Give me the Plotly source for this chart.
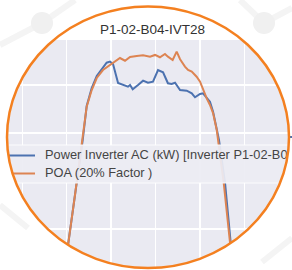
import numpy as np
import plotly.graph_objects as go

# ---------------- data ----------------
chart_title = "P1-02-B04-IVT28"
series_names = ["Power Inverter AC (kW) [Inverter P1-02-B04-IVT28]", "POA (20% Factor )"]

power_hours = [5.74, 6.09, 6.56, 7.08, 7.35, 7.69, 8.03, 8.45, 8.70, 8.93,
               9.13, 9.47, 9.80, 10.14, 10.28, 10.46, 10.82, 11.16, 11.49, 11.83,
               12.17, 12.51, 12.84, 13.09, 13.32, 13.66, 14.11, 14.45, 14.67, 15.01,
               15.21, 15.46, 15.68, 15.89, 16.14, 16.29, 16.70, 17.10, 17.30]
power_kw = [0, 333, 854, 1427, 1781, 1969, 2094, 2188, 2232, 2243,
            2219, 2021, 2000, 1982, 2000, 1955, 2000, 2045, 2024, 2034,
            2156, 2132, 2018, 2010, 2024, 1948, 1941, 1914, 1872, 1906,
            1914, 1861, 1826, 1722, 1531, 1427, 979, 365, 0]

poa_hours = [5.74, 6.09, 6.56, 7.08, 7.35, 7.69, 8.03, 8.45, 8.93, 9.26,
             9.60, 9.94, 10.28, 10.73, 11.16, 11.63, 11.97, 12.30, 12.64, 12.84,
             13.16, 13.43, 13.66, 13.99, 14.20, 14.45, 14.78, 15.01, 15.21, 15.46,
             15.68, 15.89, 16.14, 16.22, 16.61, 17.03, 17.24]
poa_kw = [0, 333, 854, 1427, 1774, 1948, 2073, 2156, 2208, 2243,
          2281, 2253, 2292, 2302, 2309, 2295, 2313, 2289, 2323, 2295,
          2260, 2347, 2268, 2191, 2156, 2139, 2086, 2034, 1948, 1861,
          1792, 1708, 1531, 1427, 979, 365, 0]

# ---------------- style ----------------
W, H = 292, 270
TOP = 40
BLUE = "rgb(76,114,176)"
ORANGE = "rgb(221,132,82)"
RING = "rgb(244,128,32)"
FONT = "Arial, Liberation Sans, sans-serif"
DECO = "#F4F4F4"
DECO_DOT = "#F0F0F0"

def px(x):
    return x / W

def py(y):
    return (H - y) / (H - TOP)

fig = go.Figure()

fig.add_trace(go.Scatter(x=power_hours, y=power_kw, mode="lines", name=series_names[0],
                         line=dict(color=BLUE, width=2), showlegend=False))
fig.add_trace(go.Scatter(x=poa_hours, y=poa_kw, mode="lines", name=series_names[1],
                         line=dict(color=ORANGE, width=2), showlegend=False))

# legend drawn in an overlay pixel space so the circular crop clips it
leg_top, leg_bot = 145, 183
fig.add_trace(go.Scatter(x=[-5, 297, 297, -5, -5], y=[leg_top, leg_top, leg_bot, leg_bot, leg_top],
                         mode="lines", fill="toself", fillcolor="rgba(236,236,243,0.93)",
                         line=dict(color="rgba(255,255,255,0.9)", width=1),
                         xaxis="x2", yaxis="y2", hoverinfo="skip", showlegend=False))
rows_y = [155.5, 173.5]
for yy, col in zip(rows_y, [BLUE, ORANGE]):
    fig.add_trace(go.Scatter(x=[8, 35], y=[yy, yy], mode="lines", line=dict(color=col, width=2),
                             xaxis="x2", yaxis="y2", hoverinfo="skip", showlegend=False))
fig.add_trace(go.Scatter(x=[45, 45], y=rows_y, mode="text", text=series_names,
                         textposition="middle right",
                         textfont=dict(family=FONT, size=12.8, color="rgb(68,68,68)"),
                         xaxis="x2", yaxis="y2", hoverinfo="skip", showlegend=False, cliponaxis=True))

# ellipse crop
cx, cy, rx, ry = 148, 137.2, 141, 130.8
t = np.linspace(0, 2 * np.pi, 181)
ex = cx + rx * np.cos(t)
ey = cy + ry * np.sin(t)
path = "M -20,-20 L 312,-20 L 312,290 L -20,290 Z M " + " L ".join(
    f"{a:.2f},{b:.2f}" for a, b in zip(ex, ey)) + " Z"

shapes = [
    dict(type="path", path=path, xref="x2", yref="y2", fillcolor="white",
         line=dict(width=0), layer="above", fillrule="evenodd"),
]
# faint background decoration outside the circle
deco_lines = [((0, 45), (42, 23)), ((42, 23), (75, 0)), ((240, 0), (264, 23)),
              ((264, 23), (292, 8)), ((0, 205), (28, 228)), ((262, 262), (292, 238))]
for (x0, y0), (x1, y1) in deco_lines:
    shapes.append(dict(type="line", xref="paper", yref="paper", x0=px(x0), y0=py(y0),
                       x1=px(x1), y1=py(y1), line=dict(color=DECO, width=6), layer="above"))
for (ccx, ccy) in [(42, 23), (264, 23)]:
    shapes.append(dict(type="circle", xref="paper", yref="paper", x0=px(ccx - 11), x1=px(ccx + 11),
                       y0=py(ccy + 11), y1=py(ccy - 11), fillcolor=DECO_DOT, line=dict(width=0),
                       layer="above"))
shapes.append(dict(type="line", xref="paper", yref="paper", x0=px(289), x1=px(292),
                   y0=py(137), y1=py(137), line=dict(color=BLUE, width=2), layer="above"))
shapes.append(dict(type="circle", xref="paper", yref="paper", x0=px(cx - rx), x1=px(cx + rx),
                   y0=py(cy + ry), y1=py(cy - ry), line=dict(color=RING, width=2.5),
                   fillcolor="rgba(0,0,0,0)", layer="above"))

fig.update_layout(
    width=W, height=H,
    margin=dict(l=0, r=0, t=TOP, b=0, pad=0),
    paper_bgcolor="white",
    plot_bgcolor="rgb(234,234,242)",
    font=dict(family=FONT, color="rgb(50,50,50)"),
    title=dict(text=chart_title, x=152.5 / W, xanchor="center", xref="paper",
               y=1 - 29 / H, yanchor="middle", yref="container",
               font=dict(size=13.5, color="rgb(50,50,50)", family=FONT)),
    showlegend=False,
    hovermode=False,
    xaxis=dict(range=[1.493, 21.223], tick0=0, dtick=3, showgrid=True, gridcolor="white",
               gridwidth=1.3, showticklabels=False, zeroline=False, showline=False, ticks=""),
    yaxis=dict(range=[72.9, 2468.75], tick0=0, dtick=500, showgrid=True, gridcolor="white",
               gridwidth=1.3, showticklabels=False, zeroline=False, showline=False, ticks=""),
    xaxis2=dict(overlaying="x", range=[0, W], visible=False),
    yaxis2=dict(overlaying="y", range=[H, TOP], visible=False),
    shapes=shapes,
)

fig.write_html("out.html", config={"displayModeBar": False, "staticPlot": True},
               post_script="document.body.style.margin='0';document.body.style.overflow='hidden';")
